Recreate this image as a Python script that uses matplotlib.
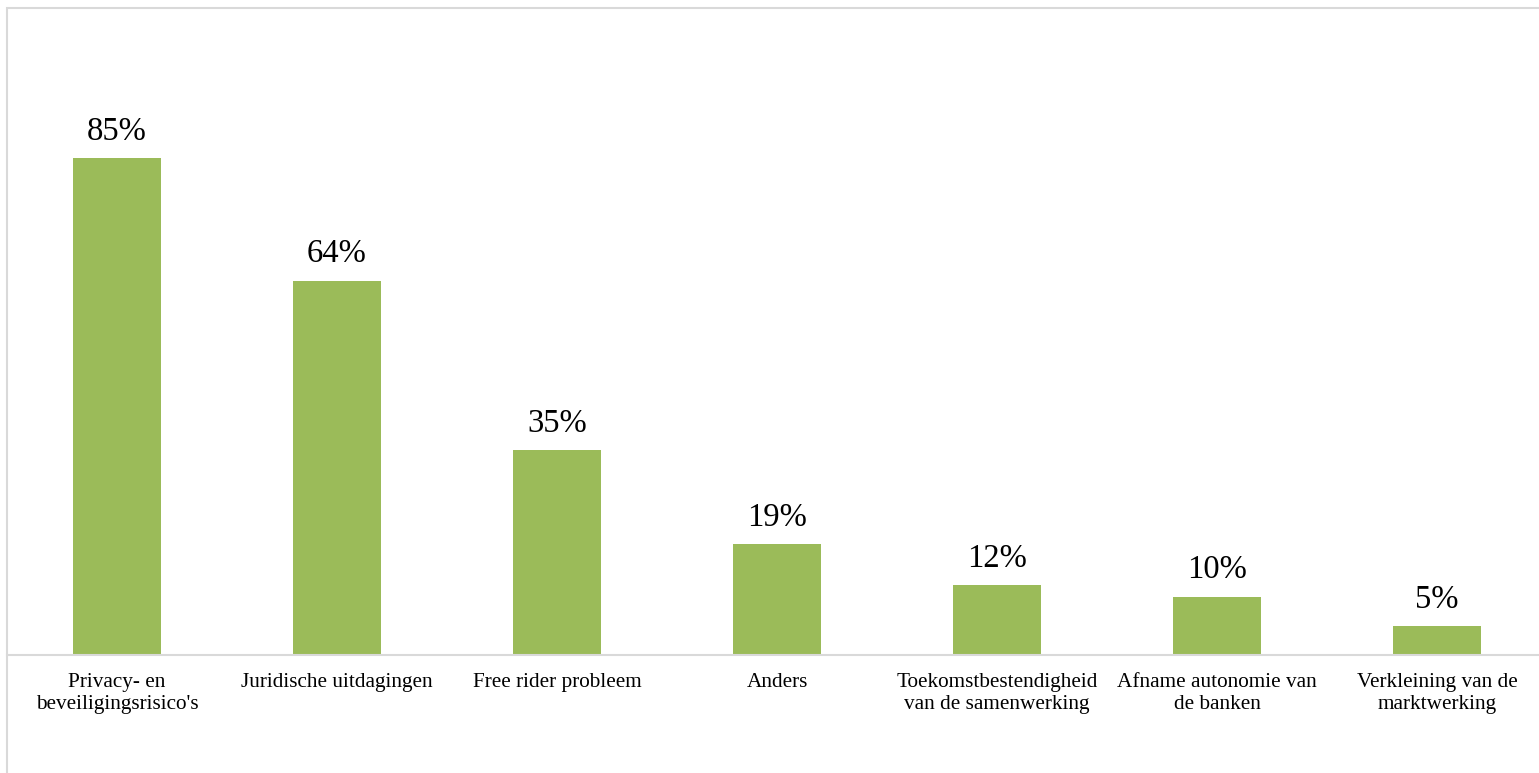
import matplotlib.pyplot as plt
from matplotlib.patches import Rectangle

categories = ["Privacy- en\nbeveiligingsrisico's", "Juridische uitdagingen",
              "Free rider probleem", "Anders",
              "Toekomstbestendigheid\nvan de samenwerking",
              "Afname autonomie van\nde banken", "Verkleining van de\nmarktwerking"]
values = [85, 64, 35, 19, 12, 10, 5]

plt.rcParams['font.family'] = ['Liberation Serif', 'DejaVu Serif']

W, H = 1539, 773
fig = plt.figure(figsize=(W / 100, H / 100), dpi=100)

# axes: left edge x=7, baseline y=655, 5.85 px per percent
left, right = 7, 1547
base, top = 655, 8
ax = fig.add_axes([left / W, 1 - base / H, (right - left) / W, (base - top) / H])
ax.set_xlim(-0.5, len(values) - 0.5)
ax.set_ylim(0, (base - top) / 5.85)

x = range(len(values))
ax.bar(x, values, width=0.4, color='#9bbb59')
for i, v in enumerate(values):
    ax.annotate(f"{v}%", (i, v), xytext=(0, 8), textcoords='offset points',
                ha='center', va='bottom', fontsize=23.5, color='black')

ax.set_xticks(list(x))
ax.set_xticklabels(categories, fontsize=15.3, linespacing=1.2, va='top')
ax.tick_params(axis='x', length=0, pad=13)
ax.set_yticks([])
for s in ['top', 'right', 'left']:
    ax.spines[s].set_visible(False)
ax.spines['bottom'].set_color('#d9d9d9')
ax.spines['bottom'].set_linewidth(1.5)

# chart frame
fig.patches.append(Rectangle((left / W, -0.1), 1.2, 1 - top / H + 0.1,
                             transform=fig.transFigure, fill=False,
                             edgecolor='#d9d9d9', linewidth=1.5))

fig.savefig('out.png', dpi=100)
